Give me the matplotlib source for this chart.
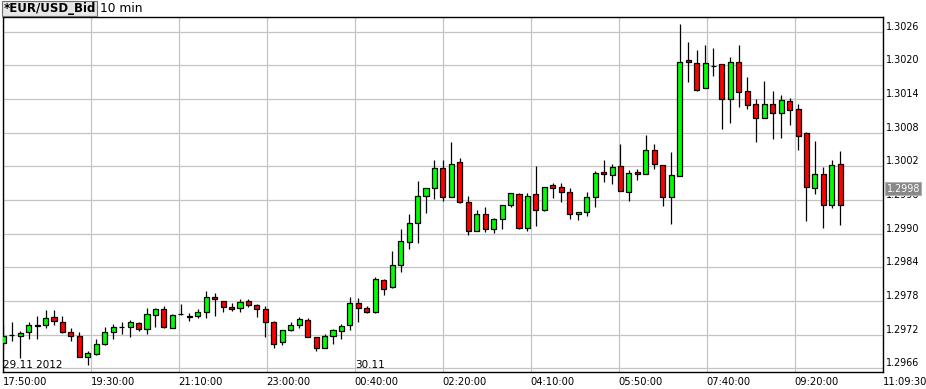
import matplotlib
matplotlib.use('Agg')
import matplotlib.pyplot as plt
import matplotlib.transforms as mtransforms
import numpy as np

# 10-minute EUR/USD bid candles
opens = [1.29706, 1.29719, 1.29717, 1.29724, 1.29738, 1.29737, 1.29751, 1.29742, 1.29725, 1.29718,
         1.29681, 1.29686, 1.29704, 1.29724, 1.29734, 1.29734, 1.29740, 1.29730, 1.29755, 1.29766,
         1.29732, 1.29757, 1.29754, 1.29753, 1.29760, 1.29787, 1.29780, 1.29769, 1.29767, 1.29780,
         1.29772, 1.29766, 1.29742, 1.29707, 1.29728, 1.29737, 1.29747, 1.29715, 1.29697, 1.29717,
         1.29727, 1.29737, 1.29776, 1.29767, 1.29761, 1.29817, 1.29805, 1.29845, 1.29886, 1.29919,
         1.29967, 1.29981, 1.30018, 1.29965, 1.30027, 1.29956, 1.29905, 1.29935, 1.29908, 1.29927,
         1.29951, 1.29970, 1.29910, 1.29970, 1.29942, 1.29986, 1.29983, 1.29974, 1.29935, 1.29938,
         1.29965, 1.30010, 1.30004, 1.30020, 1.29974, 1.30010, 1.30006, 1.30049, 1.30022, 1.29965,
         1.30003, 1.30209, 1.30204, 1.30159, 1.30199, 1.30202, 1.30140, 1.30206, 1.30154, 1.30131,
         1.30106, 1.30131, 1.30115, 1.30137, 1.30122, 1.30079, 1.29981, 1.30006, 1.29952, 1.30024]
highs = [1.29738, 1.29742, 1.29727, 1.29742, 1.29754, 1.29764, 1.29764, 1.29754, 1.29731, 1.29725,
         1.29690, 1.29712, 1.29734, 1.29739, 1.29743, 1.29746, 1.29742, 1.29768, 1.29767, 1.29771,
         1.29757, 1.29775, 1.29759, 1.29766, 1.29797, 1.29794, 1.29780, 1.29777, 1.29784, 1.29784,
         1.29774, 1.29771, 1.29744, 1.29728, 1.29742, 1.29751, 1.29750, 1.29715, 1.29721, 1.29730,
         1.29739, 1.29787, 1.29785, 1.29771, 1.29822, 1.29820, 1.29870, 1.29908, 1.29935, 1.29994,
         1.29981, 1.30031, 1.30031, 1.30063, 1.30035, 1.29968, 1.29942, 1.29947, 1.29928, 1.29951,
         1.29972, 1.29972, 1.29972, 1.30021, 1.29984, 1.29991, 1.29990, 1.29981, 1.29938, 1.29974,
         1.30012, 1.30031, 1.30024, 1.30060, 1.30014, 1.30015, 1.30076, 1.30060, 1.30022, 1.30045,
         1.30274, 1.30242, 1.30228, 1.30237, 1.30231, 1.30202, 1.30215, 1.30237, 1.30179, 1.30140,
         1.30172, 1.30154, 1.30147, 1.30142, 1.30132, 1.30081, 1.30065, 1.30019, 1.30031, 1.30047]
lows = [1.29694, 1.29709, 1.29679, 1.29713, 1.29713, 1.29731, 1.29738, 1.29723, 1.29709, 1.29681,
        1.29666, 1.29684, 1.29701, 1.29713, 1.29722, 1.29716, 1.29727, 1.29721, 1.29734, 1.29732,
        1.29731, 1.29755, 1.29745, 1.29750, 1.29750, 1.29754, 1.29760, 1.29763, 1.29761, 1.29769,
        1.29751, 1.29716, 1.29696, 1.29701, 1.29727, 1.29731, 1.29715, 1.29690, 1.29696, 1.29704,
        1.29712, 1.29728, 1.29743, 1.29758, 1.29759, 1.29791, 1.29804, 1.29832, 1.29873, 1.29884,
        1.29937, 1.29962, 1.29959, 1.29965, 1.29955, 1.29897, 1.29904, 1.29903, 1.29901, 1.29909,
        1.29947, 1.29908, 1.29905, 1.29914, 1.29940, 1.29964, 1.29956, 1.29926, 1.29924, 1.29932,
        1.29947, 1.29993, 1.29989, 1.29976, 1.29959, 1.29995, 1.30006, 1.30016, 1.29950, 1.29917,
        1.30003, 1.30171, 1.30155, 1.30159, 1.30182, 1.30086, 1.30098, 1.30126, 1.30123, 1.30064,
        1.30106, 1.30069, 1.30071, 1.30094, 1.30049, 1.29923, 1.29970, 1.29910, 1.29946, 1.29916]
closes = [1.29718, 1.29719, 1.29723, 1.29738, 1.29735, 1.29749, 1.29744, 1.29725, 1.29717, 1.29681,
          1.29687, 1.29703, 1.29724, 1.29733, 1.29734, 1.29742, 1.29730, 1.29756, 1.29765, 1.29734,
          1.29755, 1.29756, 1.29751, 1.29760, 1.29787, 1.29783, 1.29769, 1.29765, 1.29778, 1.29773,
          1.29765, 1.29742, 1.29704, 1.29728, 1.29737, 1.29748, 1.29716, 1.29697, 1.29717, 1.29728,
          1.29735, 1.29776, 1.29767, 1.29761, 1.29819, 1.29801, 1.29844, 1.29887, 1.29919, 1.29967,
          1.29981, 1.30017, 1.29965, 1.30025, 1.29957, 1.29904, 1.29935, 1.29908, 1.29926, 1.29951,
          1.29972, 1.29910, 1.29968, 1.29943, 1.29984, 1.29981, 1.29974, 1.29936, 1.29938, 1.29965,
          1.30008, 1.30006, 1.30019, 1.29976, 1.30009, 1.30006, 1.30049, 1.30024, 1.29965, 1.30004,
          1.30207, 1.30206, 1.30156, 1.30204, 1.30199, 1.30140, 1.30206, 1.30152, 1.30129, 1.30106,
          1.30131, 1.30115, 1.30138, 1.30120, 1.30075, 1.29983, 1.30006, 1.29952, 1.30022, 1.29951]

time_labels = ['17:50:00', '19:30:00', '21:10:00', '23:00:00', '00:40:00',
               '02:20:00', '04:10:00', '05:50:00', '07:40:00', '09:20:00', '11:09:30']
price_ticks = [1.2966, 1.2972, 1.2978, 1.2984, 1.2990, 1.2996,
               1.3002, 1.3008, 1.3014, 1.3020, 1.3026]
day_labels = ['29.11 2012', '30.11']
day_label_slots = [0, 4]   # which time gridline each date sits on
last_bid = 1.2998

o = np.array(opens)
h = np.array(highs)
l = np.array(lows)
c = np.array(closes)
x = np.arange(len(o))

fig = plt.figure(figsize=(9.26, 3.89), dpi=100)
ax = fig.add_axes([2.5 / 926, 1 - 372 / 389, 880 / 926, 355 / 389])

xlim = (-0.095, 103.99)
ax.set_xlim(*xlim)
ax.set_ylim(1.296534, 1.302864)

# gridlines split the time axis evenly
xt = np.linspace(xlim[0], xlim[1], len(time_labels))
ax.set_xticks(xt)
ax.set_xticklabels(time_labels, ha='left', fontsize=7.2)
ax.yaxis.tick_right()
ax.set_yticks(price_ticks)
ax.set_yticklabels([f'{p:.4f}' for p in price_ticks], fontsize=6.9, va='bottom')
ax.tick_params(axis='both', length=0, colors='black')
ax.tick_params(axis='x', pad=3.5)
ax.tick_params(axis='y', pad=2.5)
ax.grid(True, color='#c4c4c4', linewidth=0.9)
ax.set_axisbelow(True)
for s in ax.spines.values():
    s.set_color('black')
    s.set_linewidth(1.0)

up = c >= o
colors = np.where(up, '#00ff00', '#ff0000')
ax.vlines(x, l, h, color='black', linewidth=0.9, zorder=2)
body = np.abs(c - o)
body = np.where(body < 1e-6, 0.000004, body)
ax.bar(x, body, bottom=np.minimum(o, c), width=0.6, color=colors,
       edgecolor='black', linewidth=0.9, zorder=3)

# date markers inside the plot, bottom left of each day
for lab, k in zip(day_labels, day_label_slots):
    ax.text(xt[k] + 0.1, 1.29665, lab, fontsize=7.5, ha='left', va='center', zorder=4)

# current bid box on the price scale
trans = mtransforms.blended_transform_factory(ax.transAxes, ax.transData)
ax.text(1.0045, last_bid, f'{last_bid:.4f}', transform=trans, color='white',
        fontsize=6.9, ha='left', va='center', zorder=6, clip_on=False,
        bbox=dict(boxstyle='square,pad=0.15', facecolor='#888888', edgecolor='#b0b0b0', linewidth=0.8))

fig.text(3.5 / 926, 1 - 8.5 / 389, '*EUR/USD_Bid', fontsize=8.5, fontweight='bold', ha='left', va='center',
         bbox=dict(boxstyle='square,pad=0.12', facecolor='#e6e6e6', edgecolor='#707070', linewidth=0.8))
fig.text(100 / 926, 1 - 8.5 / 389, '10 min', fontsize=8.8, ha='left', va='center')

fig.savefig('out.png', dpi=100)
